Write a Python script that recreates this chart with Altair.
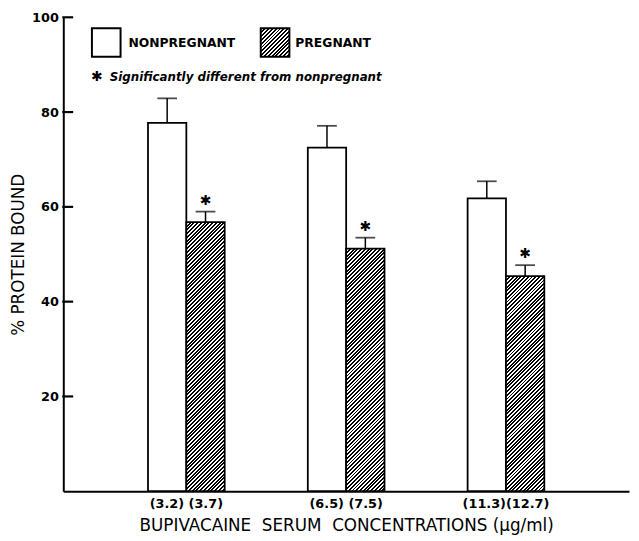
import altair as alt
import pandas as pd

# ---- data ----
groups = ["(3.2) (3.7)", "(6.5) (7.5)", "(11.3)(12.7)"]
statuses = ["NONPREGNANT", "PREGNANT"]
nonpregnant_mean = [77.7, 72.5, 61.8]
nonpregnant_upper = [82.9, 77.1, 65.4]
pregnant_mean = [56.8, 51.2, 45.4]
pregnant_upper = [59.0, 53.5, 47.7]
pregnant_significant = [True, True, True]
y_ticks = [20, 40, 60, 80, 100]

FONT = "DejaVu Sans"
W, H = 573, 480
BAR_W = W / (3 - 0.52 + 2 * 0.53) * (1 - 0.52) / 2
PERIOD = 3.8


def hatch(w, h, period=PERIOD):
    """45-degree stripes as a hard-stop linear gradient in bbox units."""
    k = w * (w + h) / (w * w + h * h)
    n = max(1, round((w + h) / period))
    stops = []
    for j in range(n):
        a, b, c = j / n, (j + 0.5) / n, (j + 1) / n
        stops += [
            {"offset": a, "color": "black"},
            {"offset": b, "color": "black"},
            {"offset": b, "color": "white"},
            {"offset": c, "color": "white"},
        ]
    return {"gradient": "linear", "x1": 0, "y1": 0, "x2": k, "y2": k * h / w, "stops": stops}


rows = []
for i, g in enumerate(groups):
    rows.append({"grp": g, "idx": i, "status": statuses[0], "mean": nonpregnant_mean[i],
                 "upper": nonpregnant_upper[i], "sig": False})
    rows.append({"grp": g, "idx": i, "status": statuses[1], "mean": pregnant_mean[i],
                 "upper": pregnant_upper[i], "sig": pregnant_significant[i]})
df = pd.DataFrame(rows)

x_title = "BUPIVACAINE\u00a0\u00a0SERUM\u00a0\u00a0CONCENTRATIONS\u00a0(\u03bcg/ml)"
y_title = "% PROTEIN BOUND"

x_enc = alt.X(
    "grp:N", sort=groups, title=x_title,
    scale=alt.Scale(paddingInner=0.52, paddingOuter=0.53),
    axis=alt.Axis(labelAngle=0, ticks=False, tickSize=0, labelPadding=6, grid=False,
                  labelFontSize=13, labelFontWeight="bold", titleFontSize=17,
                  titleFontWeight="normal", titlePadding=8, domainWidth=2),
)
xo_enc = alt.XOffset("status:N", sort=statuses, scale=alt.Scale(paddingInner=0, paddingOuter=0))
y_scale = alt.Scale(domain=[0, 100], nice=False, zero=True)
y_axis = alt.Axis(values=y_ticks, ticks=False, tickSize=0, labelPadding=5, labelFontSize=13,
                  labelFontWeight="bold", titleFontSize=17, titleFontWeight="normal",
                  titlePadding=4, domainWidth=2, grid=False)

fill_conditions = [
    {"test": f"datum.idx == {i} && datum.status == 'PREGNANT'",
     "value": hatch(BAR_W, pregnant_mean[i] * H / 100)}
    for i in range(len(groups))
]

base = alt.Chart(df)

bars = base.mark_bar(stroke="black", strokeWidth=1.8).encode(
    x=x_enc, xOffset=xo_enc,
    y=alt.Y("mean:Q", scale=y_scale, axis=y_axis, title=y_title),
    fill=alt.FillValue("white", condition=fill_conditions),
)

stems = base.mark_rule(color="black", strokeWidth=1.5).encode(
    x=x_enc, xOffset=xo_enc,
    y=alt.Y("mean:Q", scale=y_scale, axis=y_axis, title=y_title),
    y2="upper:Q",
)

caps = base.mark_tick(orient="horizontal", size=20, thickness=1.8, color="black").encode(
    x=x_enc, xOffset=xo_enc,
    y=alt.Y("upper:Q", scale=y_scale, axis=y_axis, title=y_title),
)

stars = base.transform_filter("datum.sig").mark_text(
    text="\u2731", dy=-11, fontSize=14, font=FONT, color="black", baseline="middle"
).encode(
    x=x_enc, xOffset=xo_enc,
    y=alt.Y("upper:Q", scale=y_scale, axis=y_axis, title=y_title),
)

# inward-pointing y ticks
tick_df = pd.DataFrame({"v": y_ticks})
inner_ticks = alt.Chart(tick_df).mark_rule(color="black", strokeWidth=2.2).encode(
    y=alt.Y("v:Q", scale=y_scale, axis=y_axis, title=y_title),
    x=alt.value(-1), x2=alt.value(10),
)

one = pd.DataFrame({"k": [0]})
leg_np_box = alt.Chart(one).mark_rect(fill="white", stroke="black", strokeWidth=2).encode(
    x=alt.value(29), x2=alt.value(58), y=alt.value(11), y2=alt.value(40))
leg_p_box = alt.Chart(one).mark_rect(fill=hatch(29, 29), stroke="black", strokeWidth=2).encode(
    x=alt.value(200), x2=alt.value(229), y=alt.value(11), y2=alt.value(40))
leg_np_text = alt.Chart(one).mark_text(
    text="NONPREGNANT", font=FONT, fontSize=12.5, fontWeight="bold", align="left",
    baseline="middle", color="black").encode(x=alt.value(66), y=alt.value(26))
leg_p_text = alt.Chart(one).mark_text(
    text="PREGNANT", font=FONT, fontSize=12.5, fontWeight="bold", align="left",
    baseline="middle", color="black").encode(x=alt.value(235), y=alt.value(26))
leg_star = alt.Chart(one).mark_text(
    text="\u2731", font=FONT, fontSize=14, align="left", baseline="middle",
    color="black").encode(x=alt.value(28), y=alt.value(61))
leg_note = alt.Chart(one).mark_text(
    text="Significantly different from nonpregnant", font=FONT, fontSize=12,
    fontWeight="bold", fontStyle="italic", align="left", baseline="middle",
    color="black").encode(x=alt.value(47), y=alt.value(61))

chart = alt.layer(
    bars, stems, caps, stars, inner_ticks,
    leg_np_box, leg_p_box, leg_np_text, leg_p_text, leg_star, leg_note,
).properties(
    width=W, height=H,
    autosize=alt.AutoSizeParams(type="none"),
    padding={"left": 56, "top": 6, "right": 2, "bottom": 47},
    background="white",
).configure_view(stroke=None).configure_axis(
    labelFont=FONT, titleFont=FONT, labelColor="black", titleColor="black",
    domainColor="black",
)

chart.save("out.html", embed_options={"renderer": "svg", "actions": False})
